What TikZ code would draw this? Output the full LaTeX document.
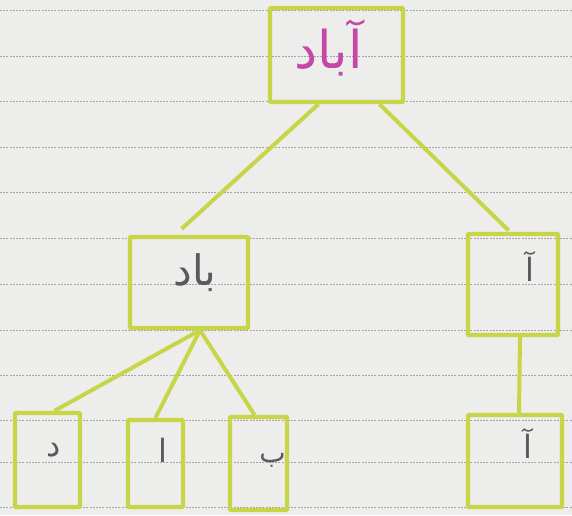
\documentclass[tikz,border=0pt]{standalone}
\usepackage{fontspec}
\newfontfamily\arabicfont[Script=Arabic]{DejaVu Sans}
\TeXXeTstate=1
\usetikzlibrary{calc}
\definecolor{paper}{HTML}{EDEDEB}
\definecolor{rule}{HTML}{A5A5A5}
\definecolor{hl}{HTML}{C9D548}
\definecolor{ink}{HTML}{5A5A5A}
\definecolor{pinkink}{HTML}{C548A8}
\begin{document}
\begin{tikzpicture}[x=1pt,y=-1pt,
  box/.style={draw=hl,line width=4.3pt,inner sep=0pt,rounded corners=1pt},
  conn/.style={draw=hl,line width=4pt},
  word/.style={font=\arabicfont\fontsize{32}{36}\selectfont,text=ink},
  ruleline/.style={draw=rule,line width=0.6pt,dash pattern=on 2pt off 1.2pt}]
\useasboundingbox (0,0) rectangle (572,515);
\fill[paper] (0,0) rectangle (572,515);
\foreach \y in {10,56,101,147,192,238,284,330,375,420,462,507}
  \draw[ruleline] (0,\y) -- (572,\y);

\node[box,minimum width=133pt,minimum height=94pt,
  label={[word,text=pinkink,font=\arabicfont\fontsize{52}{56}\selectfont,xshift=-8pt,yshift=7pt]center:\beginR آباد\endR}] (top) at (336.5,55) {};
\node[box,minimum width=118pt,minimum height=91pt,
  label={[word,font=\arabicfont\fontsize{42}{46}\selectfont,xshift=6pt,yshift=10pt]center:\beginR باد\endR}] (ml) at (189,282.5) {};
\node[box,minimum width=90pt,minimum height=101pt,
  label={[word,xshift=17pt,yshift=18pt]center:\beginR آ\endR}] (mr) at (513,284.5) {};
\node[box,minimum width=65pt,minimum height=94pt,
  label={[word,xshift=6pt,yshift=10pt]center:\beginR د\endR}] (b1) at (47.5,460) {};
\node[box,minimum width=55pt,minimum height=87pt,
  label={[word,xshift=7pt,yshift=13pt]center:\beginR ا\endR}] (b2) at (155.5,463.5) {};
\node[box,minimum width=57pt,minimum height=93pt,
  label={[word,font=\arabicfont\fontsize{28}{32}\selectfont,xshift=14pt,yshift=3pt]center:\beginR ب\endR}] (b3) at (258.5,463.5) {};
\node[box,minimum width=94pt,minimum height=92pt,
  label={[word,xshift=13pt,yshift=18pt]center:\beginR آ\endR}] (b4) at (515,461) {};

\draw[conn,shorten >=9pt] ([xshift=-18pt]top.south) -- ([xshift=-14pt]ml.north);
\draw[conn,shorten >=2pt] ([xshift=43pt]top.south) -- ([xshift=-3pt]mr.north);
\draw[conn] ([xshift=11pt]ml.south) -- ([xshift=7pt]b1.north);
\draw[conn] ([xshift=11pt]ml.south) -- (b2.north);
\draw[conn] ([xshift=11pt]ml.south) -- ([xshift=-4pt]b3.north);
\draw[conn] ([xshift=7pt]mr.south) -- ([xshift=4pt]b4.north);
\end{tikzpicture}
\end{document}
